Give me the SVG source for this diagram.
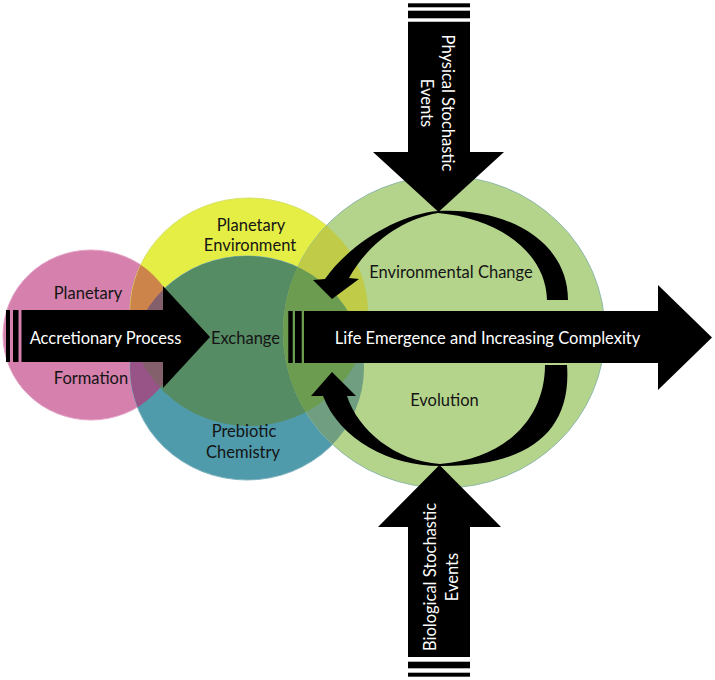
<svg xmlns="http://www.w3.org/2000/svg" width="715" height="680" viewBox="0 0 715 680">
  <style>
    .lbl { font-family: Lato, "Open Sans", "Liberation Sans", sans-serif; font-size: 16.5px; fill: #141414; text-anchor: middle; }
    .wlbl { font-family: Lato, "Open Sans", "Liberation Sans", sans-serif; font-size: 16.5px; fill: #ffffff; text-anchor: middle; }
    .blk { fill: #000000; }
  </style>
  <defs>
    <clipPath id="cP"><ellipse cx="91" cy="335" rx="88" ry="85"/></clipPath>
    <clipPath id="cY"><ellipse cx="249" cy="312" rx="119" ry="114"/></clipPath>
    <clipPath id="cB"><ellipse cx="247" cy="368" rx="117" ry="112"/></clipPath>
    <clipPath id="cG"><ellipse cx="444" cy="332" rx="161" ry="156"/></clipPath>
  </defs>
  <rect width="715" height="680" fill="#ffffff"/>

  <!-- Circles -->
  <g id="planetary-formation">
    <ellipse cx="91" cy="335" rx="88" ry="85" fill="#d580ad" stroke="#e3a3c6" stroke-width="1"/>
  </g>
  <g id="planetary-environment">
    <ellipse cx="249" cy="312" rx="119" ry="114" fill="#e4ee45" stroke="#d6e26a" stroke-width="1"/>
  </g>
  <g id="prebiotic-chemistry">
    <ellipse cx="247" cy="368" rx="117" ry="112" fill="#4f9bab" stroke="#7fb2c0" stroke-width="1"/>
  </g>
  <g id="life-circle">
    <ellipse cx="444" cy="332" rx="161" ry="156" fill="#b4d48c" stroke="#8fb8a8" stroke-width="1"/>
  </g>

  <!-- Overlap regions -->
  <g id="exchange">
    <ellipse cx="247" cy="368" rx="117" ry="112" fill="#568c64" clip-path="url(#cY)"/>
  </g>
  <g id="overlaps">
    <ellipse cx="249" cy="312" rx="119" ry="114" fill="#cc844a" clip-path="url(#cP)"/>
    <ellipse cx="247" cy="368" rx="117" ry="112" fill="#985487" clip-path="url(#cP)"/>
    <g clip-path="url(#cP)">
      <ellipse cx="247" cy="368" rx="117" ry="112" fill="#84606c" clip-path="url(#cY)"/>
    </g>
    <ellipse cx="249" cy="312" rx="119" ry="114" fill="#c0cc48" clip-path="url(#cG)"/>
    <ellipse cx="247" cy="368" rx="117" ry="112" fill="#6f9f80" clip-path="url(#cG)"/>
    <g clip-path="url(#cG)">
      <ellipse cx="247" cy="368" rx="117" ry="112" fill="#6c9c50" clip-path="url(#cY)"/>
    </g>
  </g>

  <!-- Connectors / arrows -->
  <g id="connectors">
    <!-- Accretionary process arrow -->
    <g id="accretion-arrow">
      <rect class="blk" x="6" y="310" width="4" height="52"/>
      <rect class="blk" x="13" y="310" width="5.5" height="52"/>
      <path class="blk" d="M21.5 310 L163 310 L163 286 L210 337 L163 388 L163 362 L21.5 362 Z"/>
    </g>
    <!-- Life emergence arrow -->
    <g id="life-arrow">
      <rect class="blk" x="288.3" y="311" width="4.4" height="52"/>
      <rect class="blk" x="295" y="311" width="6.7" height="52"/>
      <path class="blk" d="M304 311 L658 311 L658 285 L712 337.5 L658 390 L658 363 L304 363 Z"/>
    </g>
    <!-- Environmental change curved arrow -->
    <path id="env-change-arc" class="blk" d="M568 300 C568 240 505 207 438 211 C400 214 350 243 325 279 L313 280 L332 299 L359 279 L349 278 C368 244 400 220 438 213 C498 218 546 252 547 300 Z"/>
    <!-- Evolution curved arrow -->
    <path id="evolution-arc" class="blk" d="M567 365 C572 432 528 467 440 466 C390 466 340 440 323 396 L311 396 L332 372 L356 396 L347 396 C358 430 395 461 440 464 C506 459 545 418 545 365 Z"/>
    <!-- Physical stochastic events arrow -->
    <g id="physical-arrow">
      <rect class="blk" x="408" y="3.3" width="62" height="4"/>
      <rect class="blk" x="408" y="10.7" width="62" height="7.6"/>
      <path class="blk" d="M408 21.7 L470 21.7 L470 152 L504 152 L438.5 212 L373 152 L408 152 Z"/>
    </g>
    <!-- Biological stochastic events arrow -->
    <g id="biological-arrow">
      <rect class="blk" x="408" y="661.7" width="62" height="6.6"/>
      <rect class="blk" x="408" y="672.7" width="62" height="4"/>
      <path class="blk" d="M408 657 L470 657 L470 527 L501 527 L439.5 465 L378 527 L408 527 Z"/>
    </g>
  </g>

  <!-- Labels -->
  <g id="labels">
    <text class="lbl" x="88" y="299">Planetary</text>
    <text class="lbl" x="91" y="384">Formation</text>
    <text class="wlbl" x="105.5" y="344">Accretionary Process</text>
    <text class="lbl" x="251" y="231">Planetary</text>
    <text class="lbl" x="250" y="251">Environment</text>
    <text class="lbl" x="245.5" y="344">Exchange</text>
    <text class="lbl" x="244" y="437">Prebiotic</text>
    <text class="lbl" x="243" y="458">Chemistry</text>
    <text class="lbl" x="451" y="278">Environmental Change</text>
    <text class="wlbl" x="487.5" y="344">Life Emergence and Increasing Complexity</text>
    <text class="lbl" x="444.5" y="406">Evolution</text>
    <g transform="translate(442 103) rotate(90)">
      <text class="wlbl" x="0" y="0">Physical Stochastic</text>
      <text class="wlbl" x="0" y="21.5">Events</text>
    </g>
    <g transform="translate(436 577) rotate(-90)">
      <text class="wlbl" x="0" y="0">Biological Stochastic</text>
      <text class="wlbl" x="0" y="22">Events</text>
    </g>
  </g>
</svg>
